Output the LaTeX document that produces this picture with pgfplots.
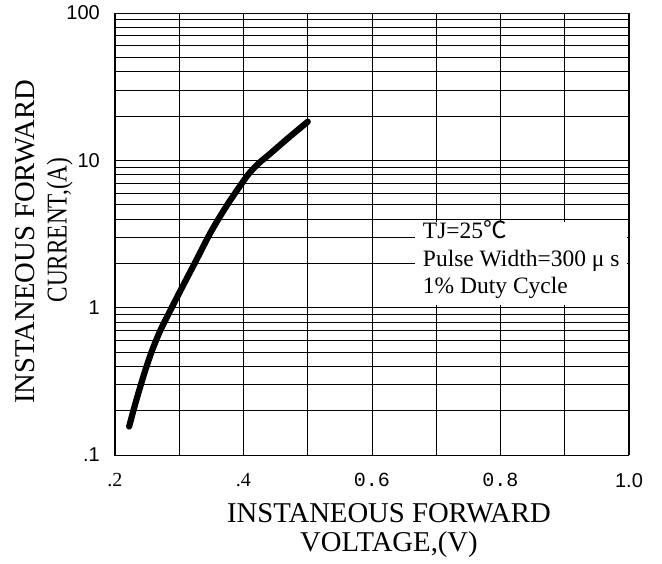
\documentclass[border=0pt]{standalone}
\usepackage{graphicx}
\usepackage{pgfplots}
\pgfplotsset{compat=1.18}
\usepackage{fontspec}
\setmainfont{Liberation Serif}
\setsansfont{Liberation Sans}
\setmonofont{Liberation Mono}
\newfontfamily\cjk{Noto Sans CJK SC}

\pgfplotstableread{
v      i
0.222  0.156
0.232  0.226
0.245  0.351
0.257  0.502
0.270  0.692
0.285  0.937
0.300  1.259
0.325  2.04
0.350  3.31
0.375  5.01
0.400  7.24
0.410  8.28
0.425  9.66
0.440  10.96
0.470  14.22
0.500  18.3
}\fwd

\begin{document}
\begin{tikzpicture}
\begin{axis}[
  scale only axis, width=514pt, height=442pt,
  ymode=log, xmin=0.2, xmax=1.0, ymin=0.1, ymax=100,
  xtick={0.2,0.3,0.4,0.5,0.6,0.7,0.8,0.9,1.0},
  xticklabels={{.2},{},{.4},{},{\ttfamily 0.6},{},{\ttfamily 0.8},{},{\sffamily 1.0}},
  ytick={0.1,1,10,100}, yticklabels={.1,1,10,100},
  grid=both,
  major grid style={black, line width=0.8pt},
  minor grid style={black, line width=0.8pt},
  major tick length=0pt, minor tick length=0pt,
  axis line style={black, line width=1pt},
  xticklabel style={font=\fontsize{20}{20}\selectfont, inner sep=0pt, anchor=north, yshift=-18pt},
  yticklabel style={font=\fontsize{20}{20}\selectfont\sffamily, inner sep=0pt, anchor=east, xshift=-15pt},
  xlabel={INSTANEOUS FORWARD\\VOLTAGE,(V)},
  xlabel style={font=\fontsize{28.7}{29.5}\selectfont, align=center, inner sep=0pt,
    at={(axis description cs:0.533,0)}, anchor=north, yshift=-48pt},
  ylabel={INSTANEOUS FORWARD\\\hspace*{24pt}\scalebox{0.81}[1]{CURRENT,(A)}},
  ylabel style={font=\fontsize{28.7}{32}\selectfont, align=center, inner sep=0pt,
    at={(axis description cs:-0.138,0.482)}, anchor=center},
]
\addplot[black, line width=6.2pt, line cap=round, line join=round, smooth] table[x=v, y=i] {\fwd};
\fill[white] (axis cs:0.667,3.84) rectangle (axis cs:0.997,1.05);
\node[anchor=base west, inner sep=0pt, font=\fontsize{23.5}{28}\selectfont] at (axis cs:0.679,2.94) {TJ=25{\cjk ℃}};
\node[anchor=base west, inner sep=0pt, font=\fontsize{23.5}{28}\selectfont] at (axis cs:0.679,1.90) {Pulse Width=300 μ s};
\node[anchor=base west, inner sep=0pt, font=\fontsize{23.5}{28}\selectfont] at (axis cs:0.679,1.245) {1\% Duty Cycle};
\end{axis}
\path ([shift={(-115pt,-108pt)}]current axis.south west) rectangle ++(662pt,563pt);
\end{tikzpicture}
\end{document}
